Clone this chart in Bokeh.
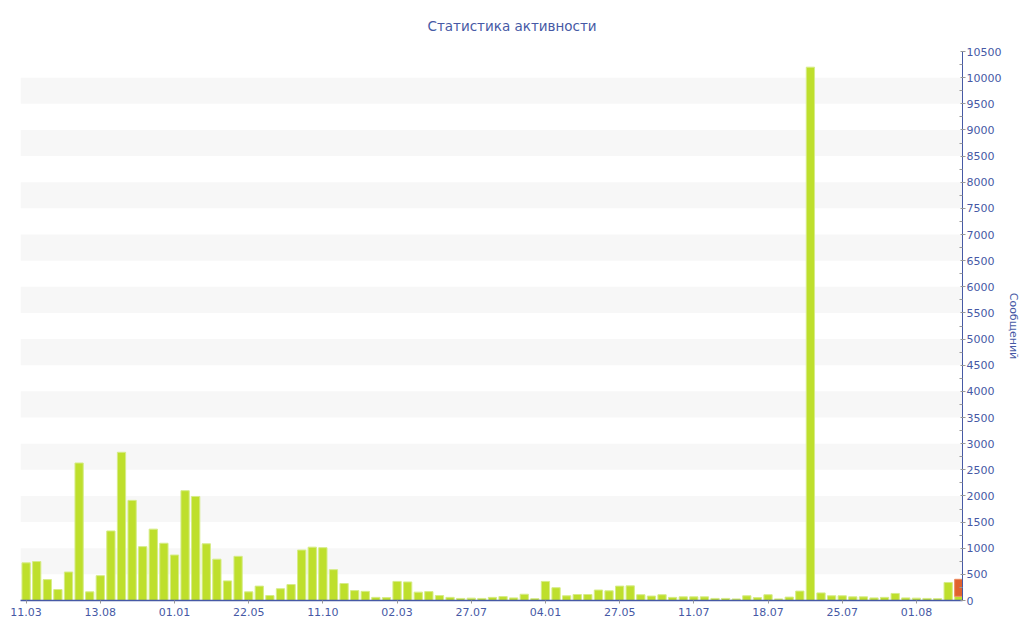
from bokeh.plotting import figure
from bokeh.models import Range1d, FixedTicker, ColumnDataSource
from bokeh.embed import file_html
from bokeh.resources import INLINE

# ---- data ----
messages = [720, 745, 400, 210, 545, 2630, 165, 475, 1330, 2835,
            1915, 1030, 1365, 1095, 870, 2100, 1990, 1085, 790, 375,
            845, 165, 275, 95, 225, 305, 965, 1020, 1010, 590,
            325, 190, 175, 60, 55, 365, 355, 160, 170, 95,
            60, 40, 45, 40, 60, 75, 50, 120, 35, 365,
            245, 90, 115, 115, 200, 185, 275, 280, 110, 85,
            110, 60, 70, 70, 70, 40, 40, 30, 90, 55,
            110, 30, 65, 180, 10200, 145, 90, 90, 70, 70,
            50, 60, 135, 50, 45, 40, 35, 345, 80]
extra = [0] * 88 + [325]
tick_labels = ["11.03", "13.08", "01.01", "22.05", "11.10", "02.03", "27.07",
               "04.01", "27.05", "11.07", "18.07", "25.07", "01.08"]
tick_step = 7
y_ticks = list(range(0, 10501, 500))
title_text = "Статистика активности"
y_label = "Сообщений"

xs = list(range(1, len(messages) + 1))
tick_pos = [1 + tick_step * i for i in range(len(tick_labels))]

BLUE = "#4659A5"
GREEN = "#BEDF2C"
RED = "#E0622E"
FONT = "DejaVu Sans"

p = figure(width=1024, height=640, output_backend="svg", toolbar_location=None,
           x_range=Range1d(0.47, 89.35), y_range=Range1d(0, 10500),
           y_axis_location="right", title=title_text,
           min_border_left=20, min_border_right=62, min_border_top=51, min_border_bottom=40)
p.outline_line_color = None
p.background_fill_color = "white"

p.title.align = "left"
p.title.offset = 407
p.title.vertical_align = "top"
p.title.standoff = 32
p.title.text_font = FONT
p.title.text_font_size = "13.5px"
p.title.text_font_style = "normal"
p.title.text_color = BLUE

src = ColumnDataSource(dict(x=xs, top=messages))
p.vbar(x="x", top="top", width=0.78, source=src,
       fill_color=GREEN, line_color="#D6EC88", line_width=1)

rx = [x for x, e in zip(xs, extra) if e > 0]
rb = [m for m, e in zip(messages, extra) if e > 0]
rt = [m + e for m, e in zip(messages, extra) if e > 0]
p.vbar(x=rx, bottom=rb, top=rt, width=0.78, fill_color=RED, line_color="#EC8A5E", line_width=1)

# grid bands
p.xgrid.visible = False
p.ygrid.ticker = FixedTicker(ticks=y_ticks)
p.ygrid.grid_line_color = None
p.ygrid.band_fill_color = "#F7F7F7"
p.ygrid.band_fill_alpha = 1.0

# x axis
xa = p.xaxis[0]
xa.ticker = FixedTicker(ticks=tick_pos)
xa.major_label_overrides = {pos: lab for pos, lab in zip(tick_pos, tick_labels)}
xa.axis_line_color = BLUE
xa.axis_line_width = 1.5
xa.major_tick_line_color = "#999999"
xa.major_tick_in = 0
xa.major_tick_out = 3
xa.minor_tick_line_color = None
xa.major_label_text_font = FONT
xa.major_label_text_font_size = "11px"
xa.major_label_text_color = BLUE
xa.major_label_standoff = 4

# y axis (right)
ya = p.yaxis[0]
ya.ticker = FixedTicker(ticks=y_ticks, minor_ticks=[t + 250 for t in y_ticks[:-1]])
ya.axis_line_color = BLUE
ya.axis_line_width = 1
ya.major_tick_line_color = "#999999"
ya.major_tick_in = 2
ya.major_tick_out = 3
ya.minor_tick_line_color = "#999999"
ya.minor_tick_in = 3
ya.minor_tick_out = 0
ya.major_label_text_font = FONT
ya.major_label_text_font_size = "11px"
ya.major_label_text_color = BLUE
ya.major_label_standoff = 1
ya.axis_label = y_label
ya.axis_label_text_font = FONT
ya.axis_label_text_font_size = "11px"
ya.axis_label_text_font_style = "normal"
ya.axis_label_text_color = BLUE
ya.axis_label_standoff = 3

open("out.html", "w").write(file_html(p, INLINE))
